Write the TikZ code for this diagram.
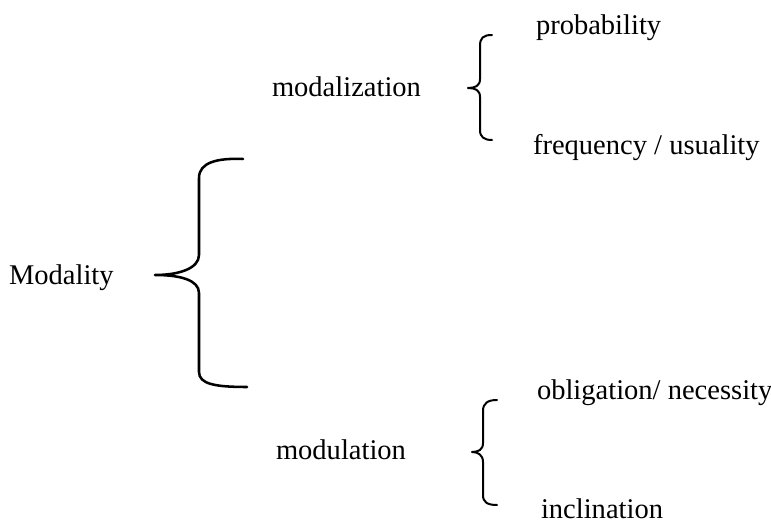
\documentclass[tikz,border=0pt]{standalone}
\usepackage{fontspec}
\setmainfont{Liberation Serif}
\begin{document}
\begin{tikzpicture}[x=0.75pt,y=-0.75pt,
  label/.style={anchor=base west,inner sep=0pt,outer sep=0pt,
    font=\fontsize{21.4}{25}\selectfont},
  bigbrace/.style={line width=1.9pt,line cap=round,line join=round},
  smallbrace/.style={line width=1.5pt,line cap=round,line join=round}]
\useasboundingbox (0,0) rectangle (771,523);

% labels
\node[label] (modality) at (9,285) {Modality};
\node[label] (modalization) at (272,97) {modalization};
\node[label] (modulation) at (276,460) {modulation};
\node[label] (prob) at (536,35) {probability};
\node[label] (freq) at (533,155) {frequency / usuality};
\node[label] (oblig) at (537,400) {obligation/ necessity};
\node[label] (incl) at (541,518) {inclination};

% main brace
\draw[bigbrace] (243,159) .. controls (218,158) and (199,162) .. (199,178)
  -- (199,255) .. controls (199,268) and (180,275) .. (155,275)
  .. controls (180,275) and (199,280) .. (199,293)
  -- (199,372) .. controls (199,384) and (215,387) .. (247,387);

% brace of modalization
\draw[smallbrace] (492,35) .. controls (483,35) and (480,38) .. (480,46)
  -- (480,79) .. controls (480,86) and (475,88) .. (468,88)
  .. controls (475,88) and (480,90) .. (480,97)
  -- (480,130) .. controls (480,137) and (484,140) .. (492,140);

% brace of modulation
\draw[smallbrace] (497,400) .. controls (488,400) and (483,403) .. (483,411)
  -- (483,443) .. controls (483,450) and (478,452) .. (472,452)
  .. controls (478,452) and (483,455) .. (483,462)
  -- (483,495) .. controls (483,502) and (487,505) .. (497,505);
\end{tikzpicture}
\end{document}
